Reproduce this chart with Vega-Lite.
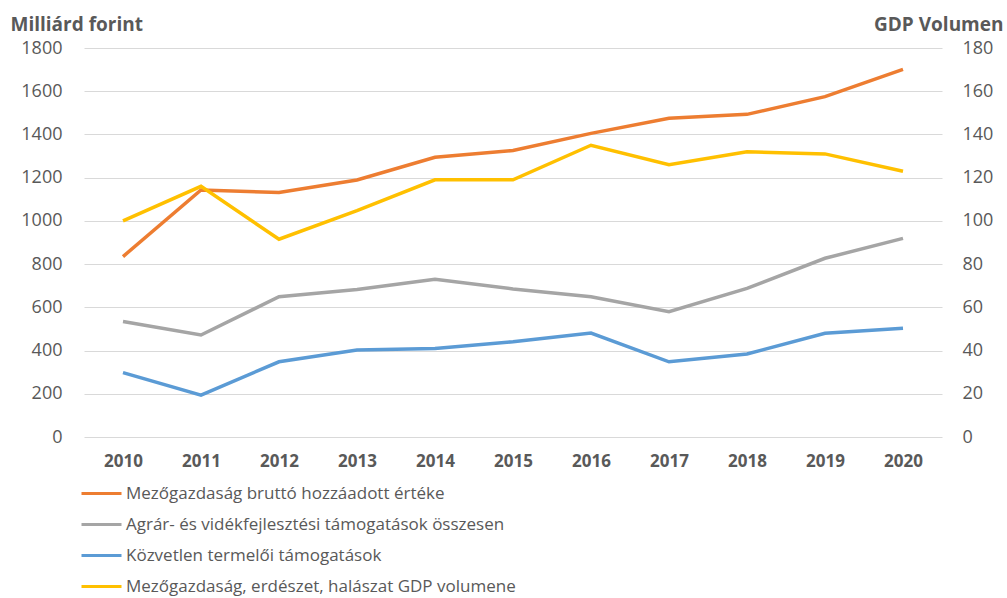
{
  "$schema": "https://vega.github.io/schema/vega-lite/v6.json",
  "width": 858,
  "height": 389,
  "autosize": "none",
  "padding": {"left": 84, "top": 48, "right": 65, "bottom": 161},
  "background": "white",
  "config": {
    "view": {"stroke": null},
    "font": "Open Sans",
    "axis": {"labelFont": "Open Sans", "titleFont": "Open Sans", "labelColor": "#595959", "titleColor": "#595959"}
  },
  "data": {
    "values": [
      {"year": "2010", "series": "Mezőgazdaság bruttó hozzáadott értéke", "value": 835},
      {"year": "2011", "series": "Mezőgazdaság bruttó hozzáadott értéke", "value": 1143},
      {"year": "2012", "series": "Mezőgazdaság bruttó hozzáadott értéke", "value": 1131},
      {"year": "2013", "series": "Mezőgazdaság bruttó hozzáadott értéke", "value": 1189},
      {"year": "2014", "series": "Mezőgazdaság bruttó hozzáadott értéke", "value": 1294},
      {"year": "2015", "series": "Mezőgazdaság bruttó hozzáadott értéke", "value": 1326},
      {"year": "2016", "series": "Mezőgazdaság bruttó hozzáadott értéke", "value": 1405},
      {"year": "2017", "series": "Mezőgazdaság bruttó hozzáadott értéke", "value": 1475},
      {"year": "2018", "series": "Mezőgazdaság bruttó hozzáadott értéke", "value": 1493},
      {"year": "2019", "series": "Mezőgazdaság bruttó hozzáadott értéke", "value": 1575},
      {"year": "2020", "series": "Mezőgazdaság bruttó hozzáadott értéke", "value": 1701},
      {"year": "2010", "series": "Agrár- és vidékfejlesztési támogatások összesen", "value": 534},
      {"year": "2011", "series": "Agrár- és vidékfejlesztési támogatások összesen", "value": 472},
      {"year": "2012", "series": "Agrár- és vidékfejlesztési támogatások összesen", "value": 649},
      {"year": "2013", "series": "Agrár- és vidékfejlesztési támogatások összesen", "value": 683},
      {"year": "2014", "series": "Agrár- és vidékfejlesztési támogatások összesen", "value": 730},
      {"year": "2015", "series": "Agrár- és vidékfejlesztési támogatások összesen", "value": 685},
      {"year": "2016", "series": "Agrár- és vidékfejlesztési támogatások összesen", "value": 649},
      {"year": "2017", "series": "Agrár- és vidékfejlesztési támogatások összesen", "value": 580},
      {"year": "2018", "series": "Agrár- és vidékfejlesztési támogatások összesen", "value": 688},
      {"year": "2019", "series": "Agrár- és vidékfejlesztési támogatások összesen", "value": 827},
      {"year": "2020", "series": "Agrár- és vidékfejlesztési támogatások összesen", "value": 919},
      {"year": "2010", "series": "Közvetlen termelői támogatások", "value": 298},
      {"year": "2011", "series": "Közvetlen termelői támogatások", "value": 194},
      {"year": "2012", "series": "Közvetlen termelői támogatások", "value": 348},
      {"year": "2013", "series": "Közvetlen termelői támogatások", "value": 403},
      {"year": "2014", "series": "Közvetlen termelői támogatások", "value": 410},
      {"year": "2015", "series": "Közvetlen termelői támogatások", "value": 441},
      {"year": "2016", "series": "Közvetlen termelői támogatások", "value": 481},
      {"year": "2017", "series": "Közvetlen termelői támogatások", "value": 348},
      {"year": "2018", "series": "Közvetlen termelői támogatások", "value": 384},
      {"year": "2019", "series": "Közvetlen termelői támogatások", "value": 480},
      {"year": "2020", "series": "Közvetlen termelői támogatások", "value": 503},
      {"year": "2010", "series": "Mezőgazdaság, erdészet, halászat GDP volumene", "value": 100},
      {"year": "2011", "series": "Mezőgazdaság, erdészet, halászat GDP volumene", "value": 116},
      {"year": "2012", "series": "Mezőgazdaság, erdészet, halászat GDP volumene", "value": 91.5},
      {"year": "2013", "series": "Mezőgazdaság, erdészet, halászat GDP volumene", "value": 104.7},
      {"year": "2014", "series": "Mezőgazdaság, erdészet, halászat GDP volumene", "value": 119},
      {"year": "2015", "series": "Mezőgazdaság, erdészet, halászat GDP volumene", "value": 119},
      {"year": "2016", "series": "Mezőgazdaság, erdészet, halászat GDP volumene", "value": 135},
      {"year": "2017", "series": "Mezőgazdaság, erdészet, halászat GDP volumene", "value": 126},
      {"year": "2018", "series": "Mezőgazdaság, erdészet, halászat GDP volumene", "value": 132},
      {"year": "2019", "series": "Mezőgazdaság, erdészet, halászat GDP volumene", "value": 131},
      {"year": "2020", "series": "Mezőgazdaság, erdészet, halászat GDP volumene", "value": 123}
    ]
  },
  "encoding": {
    "x": {
      "field": "year", "type": "ordinal",
      "scale": {"type": "point", "padding": 0.5},
      "axis": {"title": null, "domain": false, "ticks": false, "labelAngle": 0, "labelFontSize": 17, "labelFontWeight": "bold", "labelPadding": 16, "grid": false}
    },
    "color": {
      "field": "series", "type": "nominal",
      "scale": {
        "domain": ["Mezőgazdaság bruttó hozzáadott értéke", "Agrár- és vidékfejlesztési támogatások összesen", "Közvetlen termelői támogatások", "Mezőgazdaság, erdészet, halászat GDP volumene"],
        "range": ["#ED7D31", "#A5A5A5", "#5B9BD5", "#FFC000"]
      },
      "legend": {
        "title": null, "orient": "none", "legendX": -4, "legendY": 424, "direction": "vertical",
        "symbolType": "stroke", "symbolSize": 1600, "symbolStrokeWidth": 3,
        "labelFont": "Open Sans", "labelFontSize": 17, "labelColor": "#595959", "labelOffset": 3,
        "rowPadding": 1, "padding": 0, "labelLimit": 600
      }
    }
  },
  "layer": [
    {
      "transform": [{"filter": "datum.series !== 'Mezőgazdaság, erdészet, halászat GDP volumene'"}],
      "mark": {"type": "line", "strokeWidth": 3.5},
      "encoding": {
        "y": {
          "field": "value", "type": "quantitative",
          "scale": {"domain": [0, 1800], "nice": false},
          "axis": {
            "title": "Milliárd forint", "titleAngle": 0, "titleAlign": "left", "titleBaseline": "alphabetic",
            "titleX": -74, "titleY": -18, "titleFontSize": 19, "titleFontWeight": "bold",
            "values": [0, 200, 400, 600, 800, 1000, 1200, 1400, 1600, 1800], "format": "d",
            "domain": false, "ticks": false, "labelFontSize": 18, "labelPadding": 22,
            "grid": true, "gridColor": "#D9D9D9", "gridWidth": 1
          }
        }
      }
    },
    {
      "transform": [{"filter": "datum.series === 'Mezőgazdaság, erdészet, halászat GDP volumene'"}],
      "mark": {"type": "line", "strokeWidth": 3.5},
      "encoding": {
        "y": {
          "field": "value", "type": "quantitative",
          "scale": {"domain": [0, 180], "nice": false},
          "axis": {
            "orient": "right",
            "title": "GDP Volumen", "titleAngle": 0, "titleAlign": "right", "titleBaseline": "alphabetic",
            "titleX": 61, "titleY": -18, "titleFontSize": 19, "titleFontWeight": "bold",
            "values": [0, 20, 40, 60, 80, 100, 120, 140, 160, 180], "format": "d",
            "domain": false, "ticks": false, "labelFontSize": 18, "labelPadding": 20, "labelAlign": "left",
            "grid": false
          }
        }
      }
    }
  ],
  "resolve": {"scale": {"y": "independent"}}
}
